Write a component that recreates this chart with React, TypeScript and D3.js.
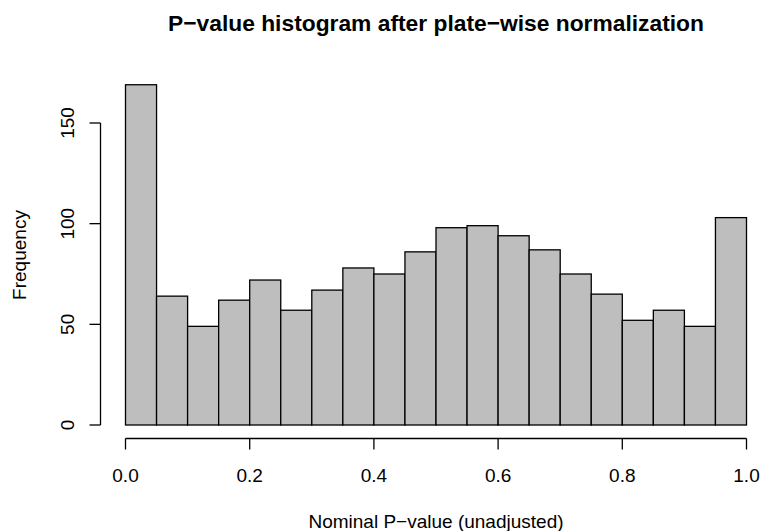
import React from "react";
import * as d3 from "d3";

const binEdges = [0, 0.05, 0.1, 0.15, 0.2, 0.25, 0.3, 0.35, 0.4, 0.45, 0.5, 0.55, 0.6, 0.65, 0.7, 0.75, 0.8, 0.85, 0.9, 0.95, 1.0];
const counts = [169, 64, 49, 62, 72, 57, 67, 78, 75, 86, 98, 99, 94, 87, 75, 65, 52, 57, 49, 103];
const xTicks = [0, 0.2, 0.4, 0.6, 0.8, 1.0];
const yTicks = [0, 50, 100, 150];
const title = "P\u2212value histogram after plate\u2212wise normalization";
const xLabel = "Nominal P\u2212value (unadjusted)";
const yLabel = "Frequency";

const W = 761;
const H = 531;
const font = "'Liberation Sans', Arial, Helvetica, sans-serif";

export default function App() {
  const x = d3.scaleLinear().domain([0, 1]).range([125.5, 746.5]);
  const y = d3.scaleLinear().domain([0, 150]).range([425, 123]);
  const axisY = 438.5;
  const axisX = 100.5;
  const tick = 11;
  const fs = 19;

  return (
    <svg width={W} height={H} style={{ position: "absolute", left: 0, top: 0, background: "#fff" }}>
      <text x={436} y={31} textAnchor="middle" fontFamily={font} fontWeight="bold" fontSize={22.8}>
        {title}
      </text>
      {counts.map((c, i) => (
        <rect
          key={i}
          x={x(binEdges[i])}
          y={y(c)}
          width={x(binEdges[i + 1]) - x(binEdges[i])}
          height={y(0) - y(c)}
          fill="#bebebe"
          stroke="#000"
          strokeWidth={1.3}
        />
      ))}
      {/* x axis */}
      <line x1={x(xTicks[0])} x2={x(xTicks[xTicks.length - 1])} y1={axisY} y2={axisY} stroke="#000" strokeWidth={1.3} />
      {xTicks.map((t) => (
        <g key={t}>
          <line x1={x(t)} x2={x(t)} y1={axisY} y2={axisY + tick} stroke="#000" strokeWidth={1.3} />
          <text x={x(t)} y={482} textAnchor="middle" fontFamily={font} fontSize={fs}>
            {t.toFixed(1)}
          </text>
        </g>
      ))}
      {/* y axis */}
      <line x1={axisX} x2={axisX} y1={y(yTicks[0])} y2={y(yTicks[yTicks.length - 1])} stroke="#000" strokeWidth={1.3} />
      {yTicks.map((t) => (
        <g key={t}>
          <line x1={axisX - tick} x2={axisX} y1={y(t)} y2={y(t)} stroke="#000" strokeWidth={1.3} />
          <text
            transform={`translate(${74},${y(t)}) rotate(-90)`}
            textAnchor="middle"
            fontFamily={font}
            fontSize={fs}
          >
            {t}
          </text>
        </g>
      ))}
      <text x={436} y={528} textAnchor="middle" fontFamily={font} fontSize={fs}>
        {xLabel}
      </text>
      <text transform={`translate(26,255) rotate(-90)`} textAnchor="middle" fontFamily={font} fontSize={fs}>
        {yLabel}
      </text>
    </svg>
  );
}
